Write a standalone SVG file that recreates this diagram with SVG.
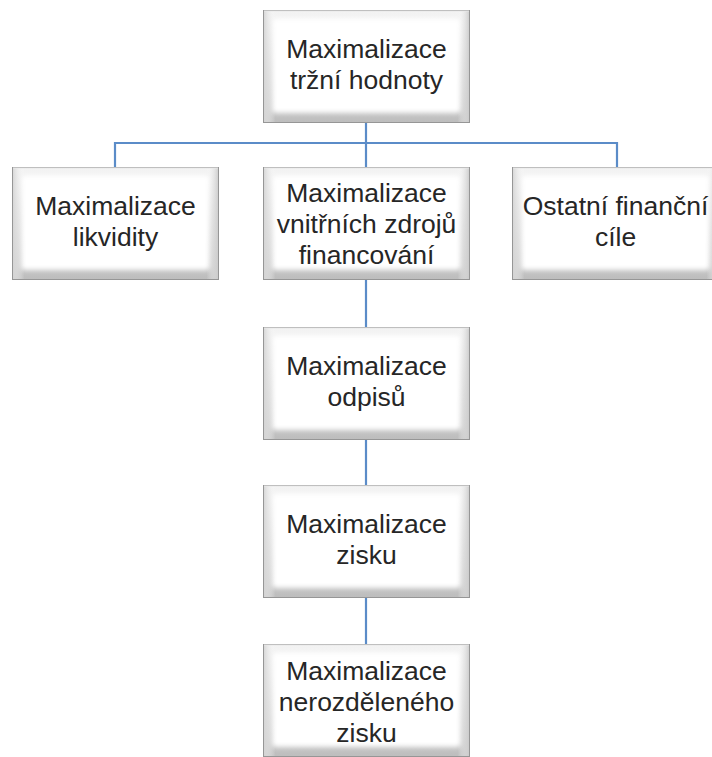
<svg xmlns="http://www.w3.org/2000/svg" xmlns:xlink="http://www.w3.org/1999/xlink" width="712" height="757" viewBox="0 0 712 757">
<style>
.t{font-family:"Liberation Sans",Arial,sans-serif;font-size:26.5px;fill:#262626;text-anchor:middle}
.c{stroke:#5b8cc8;stroke-width:2.2;fill:none}
</style>
<defs>
<linearGradient id="outer" x1="0" y1="0" x2="0" y2="1">
<stop offset="0" stop-color="#f4f4f4"/>
<stop offset="1" stop-color="#bdbdbd"/>
</linearGradient>
<linearGradient id="side" x1="0" y1="0" x2="1" y2="0">
<stop offset="0" stop-color="#d2d2d2"/>
<stop offset="0.06" stop-color="#ffffff" stop-opacity="0"/>
<stop offset="0.94" stop-color="#ffffff" stop-opacity="0"/>
<stop offset="1" stop-color="#c8c8c8"/>
</linearGradient>
<filter id="soft" x="-10%" y="-10%" width="120%" height="120%">
<feGaussianBlur stdDeviation="2.5"/>
</filter>
<g id="box">
<rect x="0" y="0" width="207" height="113" fill="url(#outer)"/>
<rect x="9" y="8" width="189" height="95" rx="4" fill="#ffffff" filter="url(#soft)"/>
<rect x="0" y="0" width="207" height="113" fill="url(#side)"/>
<rect x="0.5" y="0.5" width="206" height="112" fill="none" stroke="#969696" stroke-width="1"/>
<path d="M1 1 H206" stroke="#e8e8e8" stroke-width="1"/>
</g>
</defs>
<rect width="712" height="757" fill="#ffffff"/>
<g id="connectors">
<path class="c" d="M366 123 V167"/>
<path class="c" d="M115 143 H617"/>
<path class="c" d="M115 142 V167"/>
<path class="c" d="M617 142 V167"/>
<path class="c" d="M366 280 V327"/>
<path class="c" d="M366 440 V485"/>
<path class="c" d="M366 598 V645"/>
</g>
<g id="n1">
<use xlink:href="#box" x="263" y="10"/>
<text class="t" x="366.5" y="58">Maximalizace</text>
<text class="t" x="366.5" y="89">tržní hodnoty</text>
</g>
<g id="n2">
<use xlink:href="#box" x="12" y="167"/>
<text class="t" x="115.5" y="215">Maximalizace</text>
<text class="t" x="115.5" y="246">likvidity</text>
</g>
<g id="n3">
<use xlink:href="#box" x="263" y="167"/>
<text class="t" x="366.5" y="202">Maximalizace</text>
<text class="t" x="366.5" y="233">vnitřních zdrojů</text>
<text class="t" x="366.5" y="264">financování</text>
</g>
<g id="n4">
<use xlink:href="#box" x="512" y="167"/>
<text class="t" x="615.5" y="215">Ostatní finanční</text>
<text class="t" x="615.5" y="246">cíle</text>
</g>
<g id="n5">
<use xlink:href="#box" x="263" y="327"/>
<text class="t" x="366.5" y="375">Maximalizace</text>
<text class="t" x="366.5" y="406">odpisů</text>
</g>
<g id="n6">
<use xlink:href="#box" x="263" y="485"/>
<text class="t" x="366.5" y="533">Maximalizace</text>
<text class="t" x="366.5" y="564">zisku</text>
</g>
<g id="n7">
<use xlink:href="#box" x="263" y="644"/>
<text class="t" x="366.5" y="680">Maximalizace</text>
<text class="t" x="366.5" y="711">nerozděleného</text>
<text class="t" x="366.5" y="742">zisku</text>
</g>
</svg>
